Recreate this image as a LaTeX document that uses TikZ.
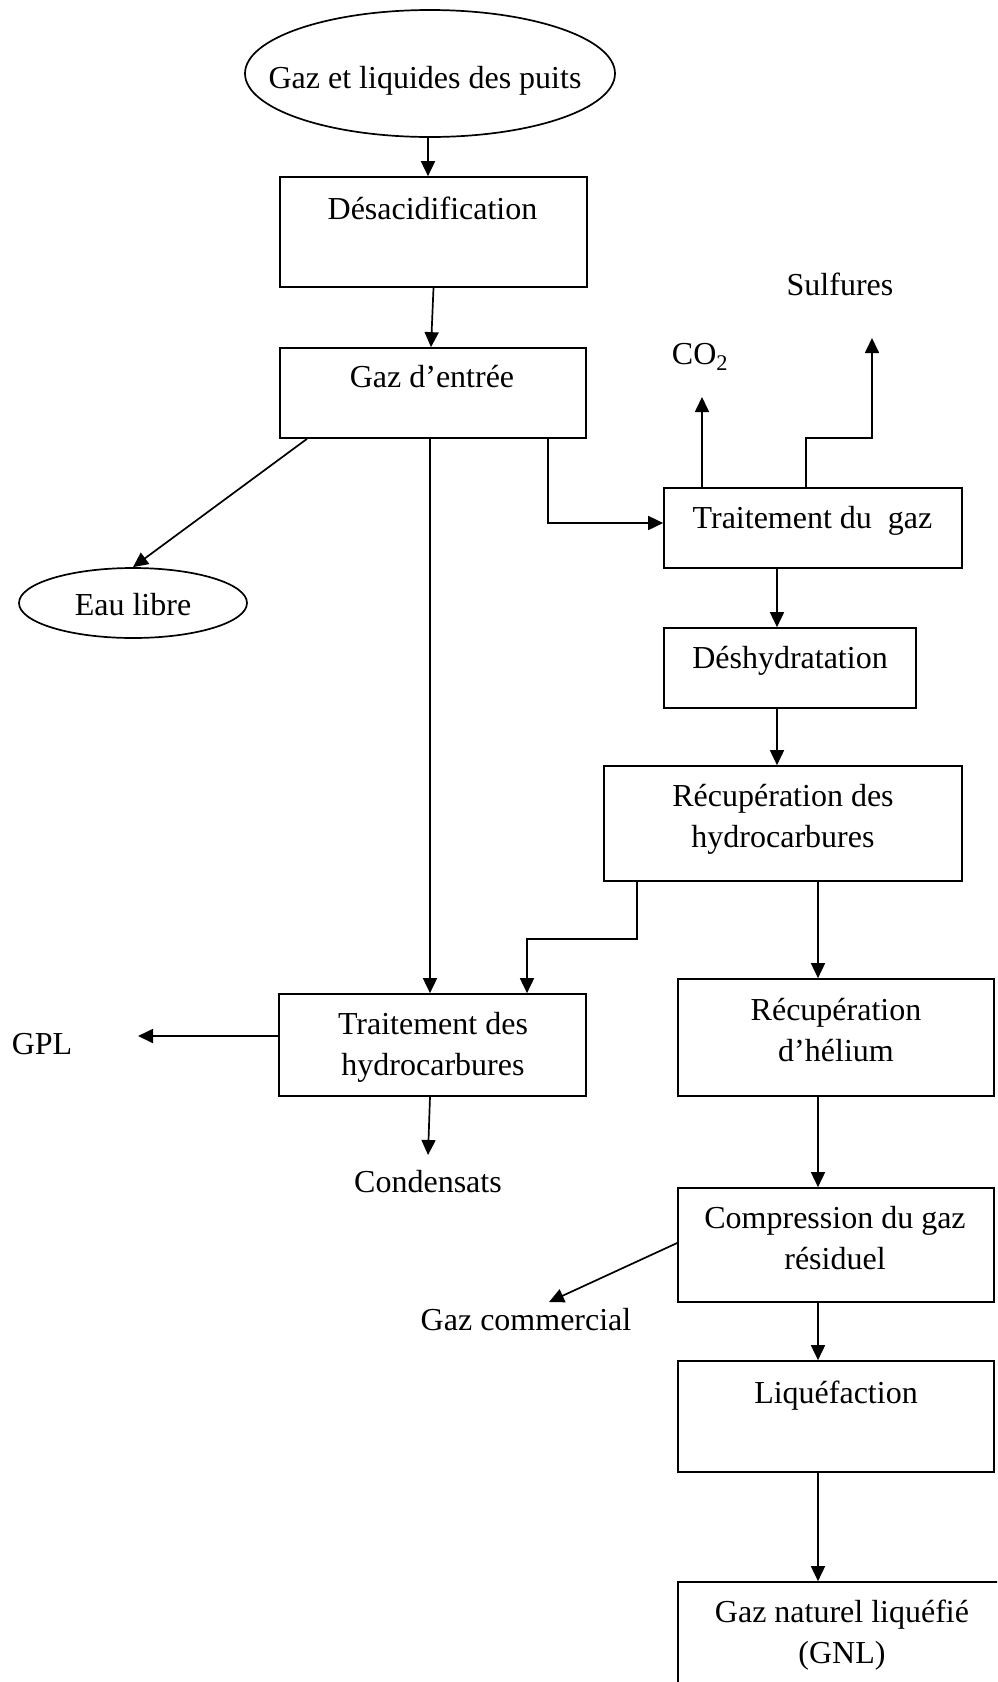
\documentclass[tikz,border=0pt]{standalone}
\usepackage{fontspec}
\setmainfont{Liberation Serif}
\usetikzlibrary{arrows.meta,shapes.geometric}

\tikzset{
  box/.style={draw, rectangle, line width=1.7pt, inner sep=0pt},
  oval/.style={draw, ellipse, line width=1.7pt, inner sep=0pt},
  txt/.style={anchor=base, align=center, inner sep=0pt,
              font=\fontsize{32}{41}\selectfont},
  arr/.style={line width=1.7pt, -{Triangle[length=15pt,width=14pt]}},
  ln/.style={line width=1.7pt}
}

\begin{document}
\begin{tikzpicture}[x=1pt, y=-1pt]
  \useasboundingbox (0,0) rectangle (997,1682);
  \clip (0,0) rectangle (997,1682);

  % process units (frames)
  \node[oval, minimum width=370, minimum height=127] (puits) at (430,73.5) {};
  \node[box, minimum width=307, minimum height=110] (desac) at (433.5,232) {};
  \node[box, minimum width=306, minimum height=90] (entree) at (433,393) {};
  \node[box, minimum width=298, minimum height=80] (traitgaz) at (813,528) {};
  \node[box, minimum width=252, minimum height=80] (deshy) at (790,668) {};
  \node[box, minimum width=358, minimum height=115] (recup) at (783,823.5) {};
  \node[oval, minimum width=228, minimum height=70] (eau) at (133,603) {};
  \node[box, minimum width=307, minimum height=102] (traithc) at (432.5,1045) {};
  \node[box, minimum width=316, minimum height=117] (helium) at (836,1037.5) {};
  \node[box, minimum width=316, minimum height=114] (compr) at (836,1245) {};
  \node[box, minimum width=316, minimum height=111] (liq) at (836,1416.5) {};
  \node[box, minimum width=328, minimum height=120] (gnl) at (842,1642) {};

  % captions (base anchor = baseline of the last line)
  \node[txt] (puits-t) at (425,88) {Gaz et liquides des puits};
  \node[txt] (desac-t) at (432.5,219) {Désacidification};
  \node[txt] (entree-t) at (432,387) {Gaz d’entrée};
  \node[txt] (traitgaz-t) at (812.5,528) {Traitement du\ \ gaz};
  \node[txt] (co2) at (700,364) {CO\textsubscript{2}};
  \node[txt] (sulf) at (840,295) {Sulfures};
  \node[txt] (deshy-t) at (790,668) {Déshydratation};
  \node[txt] (recup-t) at (783,847) {Récupération des\\hydrocarbures};
  \node[txt] (eau-t) at (133,615) {Eau libre};
  \node[txt] (traithc-t) at (433,1075) {Traitement des\\hydrocarbures};
  \node[txt] (gpl) at (42,1054) {GPL};
  \node[txt] (cond) at (428,1192) {Condensats};
  \node[txt] (helium-t) at (836,1061) {Récupération\\d’hélium};
  \node[txt] (compr-t) at (835,1269) {Compression du gaz\\résiduel};
  \node[txt] (comm) at (526,1330) {Gaz commercial};
  \node[txt] (liq-t) at (836,1403) {Liquéfaction};
  \node[txt] (gnl-t) at (842,1663) {Gaz naturel liquéfié\\(GNL)};

  % free arrow ends
  \coordinate (co2tip) at (702,397);
  \coordinate (sulftip) at (872,338);
  \coordinate (gpltip) at (138,1036);
  \coordinate (condtip) at (428,1155);
  \coordinate (commtip) at (549,1302);

  % flows
  \draw[arr] ([xshift=-2pt]puits.south) -- ([xshift=-2pt]puits.south |- desac.north);
  \draw[arr] (desac.south) -- ([xshift=-2pt]entree.north);
  \draw[arr] ([xshift=-126pt]entree.south) -- (eau.north);
  \draw[arr] ([xshift=-3pt]entree.south) -- ([xshift=-3pt]entree.south |- traithc.north);
  \draw[arr] ([xshift=115pt]entree.south) |- ([yshift=5pt]traitgaz.west);
  \draw[arr] (co2tip |- traitgaz.north) -- (co2tip);
  \draw[arr] ([xshift=-7pt]traitgaz.north) -- ++(0,-49) -| (sulftip);
  \draw[arr] ([xshift=-36pt]traitgaz.south) -- ([xshift=-36pt]traitgaz.south |- deshy.north);
  \draw[arr] ([xshift=-13pt]deshy.south) -- ([xshift=-13pt]deshy.south |- recup.north);
  \draw[arr] ([xshift=-146pt]recup.south) -- ++(0,57) -| ([xshift=94.5pt]traithc.north);
  \draw[arr] ([xshift=35pt]recup.south) -- ([xshift=35pt]recup.south |- helium.north);
  \draw[arr] ([yshift=9pt]traithc.west) -- (gpltip);
  \draw[arr] ([xshift=-2.5pt]traithc.south) -- (condtip);
  \draw[arr] ([xshift=-18pt]helium.south) -- ([xshift=-18pt]helium.south |- compr.north);
  \draw[arr] ([yshift=2pt]compr.west) -- (commtip);
  \draw[arr] ([xshift=-18pt]compr.south) -- ([xshift=-18pt]compr.south |- liq.north);
  \draw[arr] ([xshift=-18pt]liq.south) -- ([xshift=-18pt]liq.south |- gnl.north);
\end{tikzpicture}
\end{document}
